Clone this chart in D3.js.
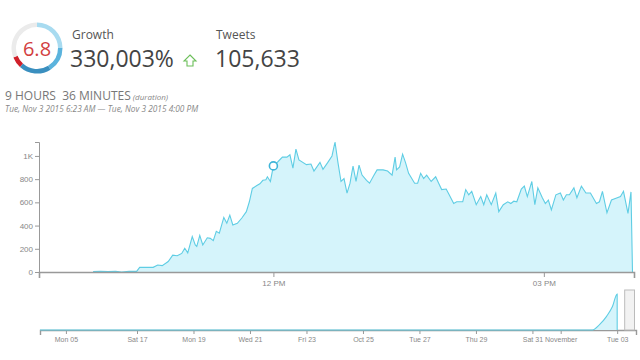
<!DOCTYPE html>
<html>
<head>
<meta charset="utf-8">
<script src="https://cdn.jsdelivr.net/npm/d3@7"></script>
<style>
  html, body { margin: 0; padding: 0; background: #fff; }
  svg { display: block; font-family: "Open Sans", sans-serif; }
  .axis text { font-family: "Liberation Sans", Arial, sans-serif; font-size: 8px; fill: #888; }
  .axis path, .axis line { stroke: #999; }
  .ctx text { font-size: 7px; }
</style>
</head>
<body>
<svg id="chart" width="640" height="360"></svg>
<script>
// ---------- data ----------
const gaugeValue = "6.8";
const gaugeSegments = [   // [startDeg, endDeg, colour key]
  [0, 90, "light"], [90, 148, "mid"], [148, 222, "dark"], [222, 248, "red"], [248, 360, "bg"]
];
const growthLabel = "Growth";
const growthValue = "330,003%";
const tweetsLabel = "Tweets";
const tweetsValue = "105,633";
const durationText = "9 HOURS  36 MINUTES";
const durationNote = "(duration)";
const rangeText = "Tue, Nov 3 2015 6:23 AM \u2014 Tue, Nov 3 2015 4:00 PM";

const mainDomain = ["2015-11-03 09:24", "2015-11-03 16:00"];
const times = [
  "10:00","10:05","10:10","10:15","10:19","10:24","10:29","10:31","10:36","10:40",
  "10:43","10:46","10:50","10:53","10:56","10:59","11:01","11:03","11:06","11:08",
  "11:09","11:11","11:13","11:16","11:18","11:20","11:22","11:24","11:27","11:29",
  "11:31","11:33","11:36","11:39","11:42","11:44","11:46","11:49","11:51","11:53",
  "11:55","11:56","11:58","12:00","12:03","12:06","12:09","12:11","12:13","12:15",
  "12:17","12:22","12:25","12:27","12:31","12:33","12:36","12:39","12:41","12:43",
  "12:45","12:47","12:49","12:51","12:53","12:55","12:57","12:59","13:02","13:04",
  "13:07","13:09","13:13","13:16","13:19","13:21","13:22","13:24","13:26","13:28",
  "13:30","13:34","13:36","13:38","13:40","13:42","13:45","13:48","13:50","13:52",
  "13:55","13:57","14:00","14:02","14:06","14:08","14:10","14:12","14:15","14:18",
  "14:20","14:22","14:25","14:28","14:30","14:33","14:36","14:38","14:40","14:42",
  "14:45","14:47","14:49","14:52","14:54","14:56","14:59","15:01","15:03","15:05",
  "15:08","15:11","15:13","15:15","15:17","15:20","15:22","15:25","15:28","15:31",
  "15:35","15:37","15:39","15:42","15:45","15:48","15:51","15:53","15:56","15:58",
  "15:59"
];
const tweets = [
  3,5,3,5,0,5,5,40,40,40,
  60,55,90,145,140,160,205,165,305,233,
  220,315,233,295,290,270,350,335,470,420,
  490,405,420,465,520,605,720,745,760,790,
  795,820,780,914,950,990,990,1010,895,1058,
  965,925,930,870,945,885,940,1000,1120,940,
  780,805,680,765,913,780,920,835,790,765,
  835,880,880,870,835,990,880,905,1015,940,
  850,765,765,850,805,835,780,820,765,710,
  715,665,590,605,605,710,665,695,580,650,
  580,665,580,680,520,580,605,590,610,605,
  715,740,650,780,580,725,640,590,620,535,
  665,680,620,665,665,725,640,740,680,680,
  590,605,695,510,620,635,650,695,505,690,
  0
];
const highlightTime = "12:00";
const yTicks = [0, 200, 400, 600, 800, 1000];
const yTickLabels = ["0", "200", "400", "600", "800", "1K"];
const xTicks = ["2015-11-03 12:00", "2015-11-03 15:00"];
const xTickLabels = ["12 PM", "03 PM"];

// context (overview) strip
const ctxDomain = ["2015-09-30 15:00", "2015-10-17 00:00", "2015-11-03 16:00"];
const ctxDates = ["2015-09-30 15:00", "2015-11-02 03:00", "2015-11-02 09:00", "2015-11-02 15:00",
                  "2015-11-02 20:00", "2015-11-03 00:00", "2015-11-03 00:01"];
const ctxValues = [0, 0, 150, 380, 650, 1000, 0];
const ctxTicks = ["2015-10-05", "2015-10-17", "2015-10-19", "2015-10-21", "2015-10-23", "2015-10-25",
                  "2015-10-27", "2015-10-29", "2015-10-31", "2015-11-01", "2015-11-03"];
const ctxTickLabels = ["Mon 05", "Sat 17", "Mon 19", "Wed 21", "Fri 23", "Oct 25",
                       "Tue 27", "Thu 29", "Sat 31", "November", "Tue 03"];
const brushExtent = ["2015-11-03 06:23", "2015-11-03 16:00"];

// ---------- drawing ----------
const svg = d3.select("#chart");
const pDT = d3.timeParse("%Y-%m-%d %H:%M");
const pD = d3.timeParse("%Y-%m-%d");
const pT = s => pDT("2015-11-03 " + s);

const colors = { light: "#a8dbf0", mid: "#5bb3dd", dark: "#3a8fbf", red: "#d0202a", bg: "#ebebeb" };

// gauge
const gauge = svg.append("g").attr("transform", "translate(37,48)");
const arc = d3.arc().innerRadius(21).outerRadius(25.5);
gaugeSegments.forEach(s => {
  gauge.append("path")
    .attr("d", arc({ startAngle: s[0] * Math.PI / 180, endAngle: s[1] * Math.PI / 180 }))
    .attr("fill", colors[s[2]]);
});
gauge.append("text").text(gaugeValue)
  .attr("text-anchor", "middle").attr("dy", "0.35em").attr("y", 1)
  .attr("font-size", 20).attr("fill", "#d2403f");

// header texts
svg.append("text").text(growthLabel).attr("x", 72).attr("y", 38.5).attr("font-size", 12).attr("fill", "#555");
svg.append("text").text(growthValue).attr("x", 70).attr("y", 67).attr("font-size", 23).attr("fill", "#444");
svg.append("text").text(tweetsLabel).attr("x", 216).attr("y", 38.5).attr("font-size", 12).attr("fill", "#555");
svg.append("text").text(tweetsValue).attr("x", 215).attr("y", 67).attr("font-size", 23).attr("fill", "#444");
// green outline up arrow
svg.append("path")
  .attr("d", "M190,55 L196,61 L193,61 L193,66 L187,66 L187,61 L184,61 Z")
  .attr("fill", "none").attr("stroke", "#6cbf5a").attr("stroke-width", 1.1);

const dur = svg.append("text").attr("x", 5).attr("y", 100).attr("fill", "#777");
dur.append("tspan").text(durationText).attr("font-size", 12).style("white-space", "pre").attr("xml:space", "preserve");
dur.append("tspan").text(" " + durationNote).attr("font-size", 8).attr("font-style", "italic").attr("fill", "#888");
svg.append("text").text(rangeText).attr("x", 5).attr("y", 112)
  .attr("font-size", 8.3).attr("font-style", "italic").attr("fill", "#888");

// main chart
const data = times.map((t, i) => ({ t: pT(t), v: tweets[i] }));
const x = d3.scaleTime().domain(mainDomain.map(pDT)).range([39, 634]);
const y = d3.scaleLinear().domain([0, d3.max(tweets)]).range([272, 142]);

const area = d3.area().x(d => x(d.t)).y0(y(0)).y1(d => y(d.v));
const line = d3.line().x(d => x(d.t)).y(d => y(d.v));

svg.append("path").datum(data).attr("d", area).attr("fill", "#d5f4fb");
svg.append("path").datum(data).attr("d", line).attr("fill", "none")
  .attr("stroke", "#5fcde4").attr("stroke-width", 1.1);

const xAxis = svg.append("g").attr("class", "axis").attr("transform", "translate(0,272)")
  .call(d3.axisBottom(x).tickValues(xTicks.map(pDT))
    .tickFormat((d, i) => xTickLabels[i]).tickSize(5).tickSizeOuter(6));
xAxis.select(".domain").attr("stroke", "#888").attr("stroke-width", 1.6);
xAxis.selectAll("text").attr("dy", "0.75em");

const yAxis = svg.append("g").attr("class", "axis").attr("transform", "translate(39,0)")
  .call(d3.axisLeft(y).tickValues(yTicks).tickFormat((d, i) => yTickLabels[i]).tickSize(4).tickSizeOuter(4));
yAxis.selectAll("text").attr("x", -6);

const hl = data.find(d => +d.t === +pT(highlightTime));
svg.append("circle").attr("cx", x(hl.t)).attr("cy", y(hl.v)).attr("r", 4)
  .attr("fill", "#fff").attr("stroke", "#3fb5d9").attr("stroke-width", 1.6);

// context chart
const cx = d3.scaleTime().domain(ctxDomain.map(pDT)).range([40, 137, 636]);
const cy = d3.scaleLinear().domain([0, d3.max(ctxValues)]).range([330, 294]);
const ctxData = ctxDates.map((d, i) => ({ t: pDT(d), v: ctxValues[i] }));

const ctxAxis = svg.append("g").attr("class", "axis ctx").attr("transform", "translate(0,330)")
  .call(d3.axisBottom(cx).tickValues(ctxTicks.map(pD))
    .tickFormat((d, i) => ctxTickLabels[i]).tickSize(4).tickSizeOuter(5));
ctxAxis.select(".domain").attr("stroke", "#888").attr("stroke-width", 1.4);
ctxAxis.selectAll("text").attr("dy", "0.75em");

const cArea = d3.area().curve(d3.curveMonotoneX).x(d => cx(d.t)).y0(cy(0)).y1(d => cy(d.v));
const cLine = d3.line().curve(d3.curveMonotoneX).x(d => cx(d.t)).y(d => cy(d.v));
svg.append("path").datum(ctxData).attr("d", cArea).attr("fill", "#d5f4fb");
svg.append("path").datum(ctxData).attr("d", cLine).attr("fill", "none")
  .attr("stroke", "#5fcde4").attr("stroke-width", 1.1);

const b0 = cx(pDT(brushExtent[0])), b1 = cx(pDT(brushExtent[1]));
svg.append("rect").attr("x", b0).attr("y", 290).attr("width", b1 - b0 - 1.5).attr("height", 40)
  .attr("fill", "#f2f2f2").attr("stroke", "#bbb").attr("stroke-width", 1);
</script>
</body>
</html>
